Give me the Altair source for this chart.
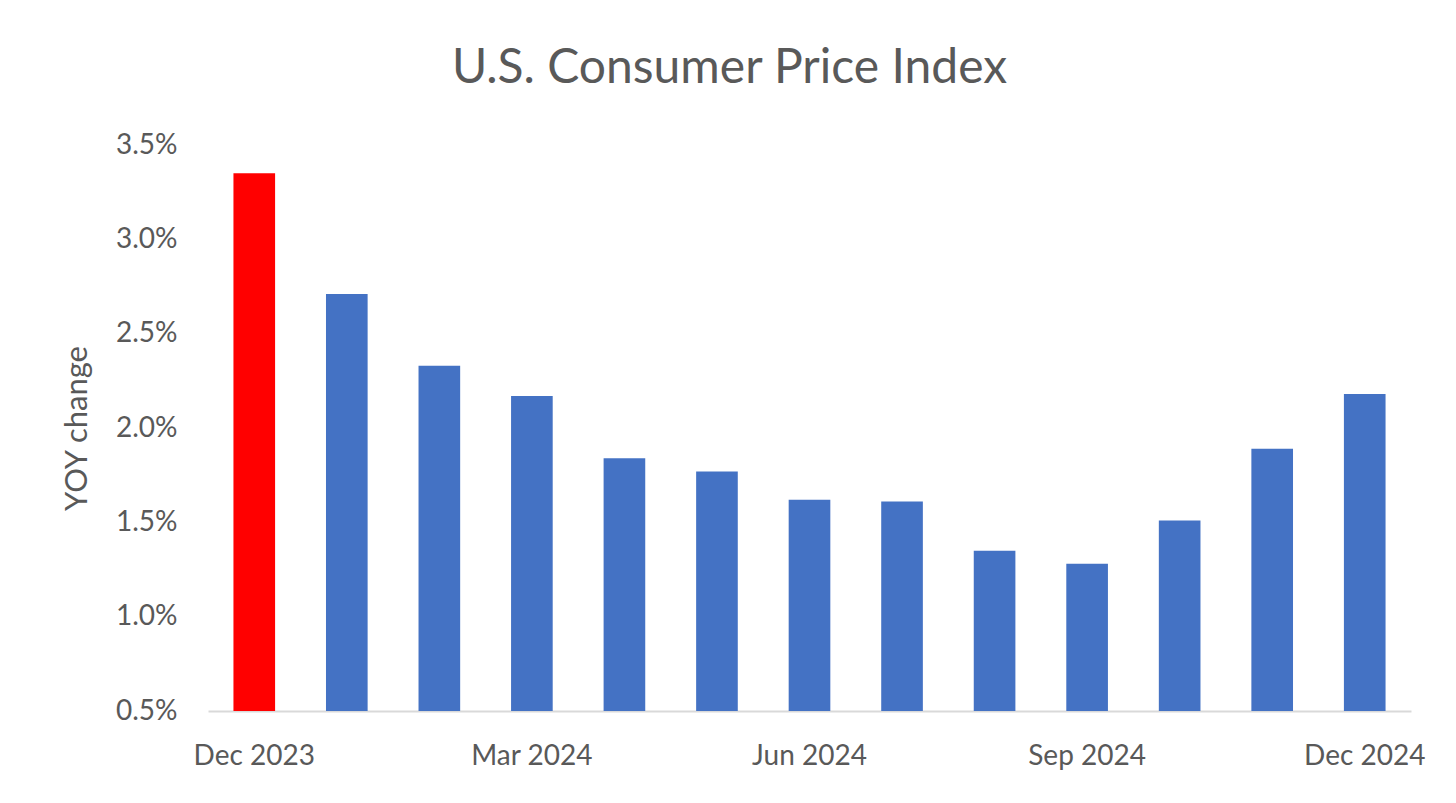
import altair as alt
import pandas as pd

months = ["Dec 2023", "Jan 2024", "Feb 2024", "Mar 2024", "Apr 2024", "May 2024",
          "Jun 2024", "Jul 2024", "Aug 2024", "Sep 2024", "Oct 2024", "Nov 2024", "Dec 2024"]
yoy = [3.35, 2.71, 2.33, 2.17, 1.84, 1.77, 1.62, 1.61, 1.35, 1.28, 1.51, 1.89, 2.18]
highlight = ["yes"] + ["no"] * 12
shown_labels = ["Dec 2023", "Mar 2024", "Jun 2024", "Sep 2024", "Dec 2024"]
y_ticks = [0.5, 1.0, 1.5, 2.0, 2.5, 3.0, 3.5]

df = pd.DataFrame({"month": months, "yoy": [v / 100 for v in yoy], "hl": highlight})

FONT = "Lato"
GRAY = "#595959"

chart = alt.Chart(df).mark_bar(clip=True).encode(
    x=alt.X("month:N", sort=months, title=None,
            scale=alt.Scale(paddingInner=0.55, paddingOuter=0.275),
            axis=alt.Axis(values=shown_labels, labelAngle=0, ticks=False,
                          domainColor="#D9D9D9", domainWidth=2,
                          labelFont=FONT, labelFontSize=28, labelColor=GRAY,
                          labelPadding=31, labelOverlap=False)),
    y=alt.Y("yoy:Q", title="YOY change",
            scale=alt.Scale(domain=[0.005, 0.035], nice=False, zero=False),
            axis=alt.Axis(values=[t / 100 for t in y_ticks], format=".1%", grid=False,
                          domain=False, ticks=False,
                          labelFont=FONT, labelFontSize=28, labelColor=GRAY,
                          labelPadding=31,
                          titleFont=FONT, titleFontSize=31, titleColor=GRAY,
                          titleFontWeight="normal", titlePadding=22)),
    color=alt.Color("hl:N", scale=alt.Scale(domain=["yes", "no"], range=["#FF0000", "#4472C4"]),
                    legend=None),
).properties(
    width=1203,
    height=566,
    background="white",
    title=alt.TitleParams("U.S. Consumer Price Index", font=FONT, fontSize=48,
                          fontWeight="normal", color=GRAY, anchor="middle",
                          dx=-80, offset=38),
    autosize=alt.AutoSizeParams(type="none"),
    padding={"left": 200, "top": 137, "right": 37, "bottom": 84},
).configure_view(strokeWidth=0)

chart.save("out.html", embed_options={"renderer": "svg", "actions": False})
